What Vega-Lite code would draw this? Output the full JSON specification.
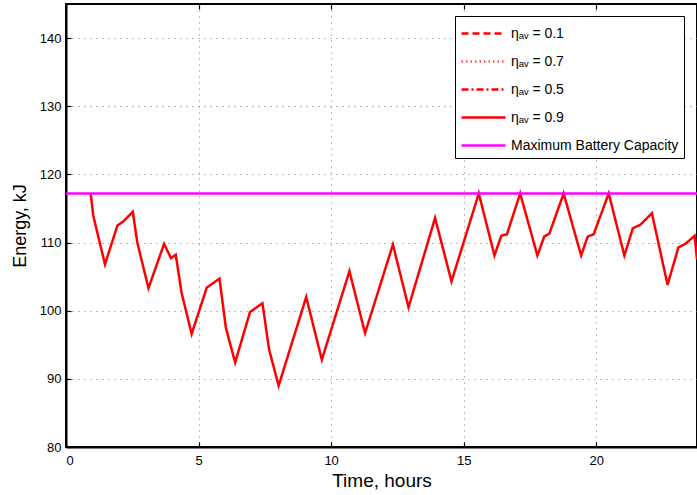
{
  "$schema": "https://vega.github.io/schema/vega-lite/v6.json",
  "autosize": "none",
  "width": 631,
  "height": 443,
  "padding": {"left": 66, "top": 4, "right": 0, "bottom": 48},
  "background": "white",
  "config": {
    "font": "Liberation Sans",
    "view": {"stroke": "black", "strokeWidth": 2},
    "axis": {
      "labelFont": "Liberation Sans",
      "labelFontSize": 13,
      "labelColor": "black",
      "titleFont": "Liberation Sans",
      "titleFontWeight": "normal",
      "titleColor": "black",
      "domainColor": "black",
      "domainWidth": 2,
      "tickColor": "black",
      "tickWidth": 1.2,
      "tickSize": -5,
      "gridColor": "#777",
      "gridDash": [1, 5],
      "gridWidth": 1
    },
    "legend": {
      "labelFont": "Liberation Sans",
      "labelFontSize": 14,
      "labelColor": "black",
      "labelLimit": 300
    }
  },
  "datasets": {
    "energy": [
      {"t": 0.93, "E": 117.2, "series": "ηₐᵥ = 0.9"},
      {"t": 1.03, "E": 113.9, "series": "ηₐᵥ = 0.9"},
      {"t": 1.47, "E": 106.8, "series": "ηₐᵥ = 0.9"},
      {"t": 1.94, "E": 112.5, "series": "ηₐᵥ = 0.9"},
      {"t": 2.16, "E": 113.1, "series": "ηₐᵥ = 0.9"},
      {"t": 2.52, "E": 114.5, "series": "ηₐᵥ = 0.9"},
      {"t": 2.69, "E": 110.0, "series": "ηₐᵥ = 0.9"},
      {"t": 3.11, "E": 103.3, "series": "ηₐᵥ = 0.9"},
      {"t": 3.70, "E": 109.8, "series": "ηₐᵥ = 0.9"},
      {"t": 3.96, "E": 107.7, "series": "ηₐᵥ = 0.9"},
      {"t": 4.14, "E": 108.2, "series": "ηₐᵥ = 0.9"},
      {"t": 4.36, "E": 102.6, "series": "ηₐᵥ = 0.9"},
      {"t": 4.74, "E": 96.6, "series": "ηₐᵥ = 0.9"},
      {"t": 5.31, "E": 103.4, "series": "ηₐᵥ = 0.9"},
      {"t": 5.79, "E": 104.7, "series": "ηₐᵥ = 0.9"},
      {"t": 6.03, "E": 97.5, "series": "ηₐᵥ = 0.9"},
      {"t": 6.38, "E": 92.4, "series": "ηₐᵥ = 0.9"},
      {"t": 6.94, "E": 99.8, "series": "ηₐᵥ = 0.9"},
      {"t": 7.41, "E": 101.1, "series": "ηₐᵥ = 0.9"},
      {"t": 7.66, "E": 94.3, "series": "ηₐᵥ = 0.9"},
      {"t": 8.02, "E": 89.0, "series": "ηₐᵥ = 0.9"},
      {"t": 9.06, "E": 102.0, "series": "ηₐᵥ = 0.9"},
      {"t": 9.65, "E": 92.8, "series": "ηₐᵥ = 0.9"},
      {"t": 10.69, "E": 105.8, "series": "ηₐᵥ = 0.9"},
      {"t": 11.28, "E": 96.7, "series": "ηₐᵥ = 0.9"},
      {"t": 12.33, "E": 109.7, "series": "ηₐᵥ = 0.9"},
      {"t": 12.92, "E": 100.5, "series": "ηₐᵥ = 0.9"},
      {"t": 13.92, "E": 113.6, "series": "ηₐᵥ = 0.9"},
      {"t": 14.54, "E": 104.3, "series": "ηₐᵥ = 0.9"},
      {"t": 15.57, "E": 117.2, "series": "ηₐᵥ = 0.9"},
      {"t": 16.16, "E": 108.1, "series": "ηₐᵥ = 0.9"},
      {"t": 16.42, "E": 111.0, "series": "ηₐᵥ = 0.9"},
      {"t": 16.63, "E": 111.2, "series": "ηₐᵥ = 0.9"},
      {"t": 17.13, "E": 117.2, "series": "ηₐᵥ = 0.9"},
      {"t": 17.78, "E": 108.1, "series": "ηₐᵥ = 0.9"},
      {"t": 18.04, "E": 110.9, "series": "ηₐᵥ = 0.9"},
      {"t": 18.23, "E": 111.3, "series": "ηₐᵥ = 0.9"},
      {"t": 18.77, "E": 117.2, "series": "ηₐᵥ = 0.9"},
      {"t": 19.43, "E": 108.1, "series": "ηₐᵥ = 0.9"},
      {"t": 19.68, "E": 110.9, "series": "ηₐᵥ = 0.9"},
      {"t": 19.90, "E": 111.2, "series": "ηₐᵥ = 0.9"},
      {"t": 20.47, "E": 117.2, "series": "ηₐᵥ = 0.9"},
      {"t": 21.06, "E": 108.1, "series": "ηₐᵥ = 0.9"},
      {"t": 21.38, "E": 112.1, "series": "ηₐᵥ = 0.9"},
      {"t": 21.66, "E": 112.6, "series": "ηₐᵥ = 0.9"},
      {"t": 22.10, "E": 114.3, "series": "ηₐᵥ = 0.9"},
      {"t": 22.69, "E": 103.8, "series": "ηₐᵥ = 0.9"},
      {"t": 23.10, "E": 109.3, "series": "ηₐᵥ = 0.9"},
      {"t": 23.36, "E": 109.8, "series": "ηₐᵥ = 0.9"},
      {"t": 23.71, "E": 111.0, "series": "ηₐᵥ = 0.9"},
      {"t": 23.80, "E": 107.5, "series": "ηₐᵥ = 0.9"}
    ],
    "cap": [
      {"t": 0, "E": 117.2, "series": "Maximum Battery Capacity"},
      {"t": 24, "E": 117.2, "series": "Maximum Battery Capacity"}
    ]
  },
  "encoding": {
    "x": {
      "field": "t", "type": "quantitative",
      "scale": {"domain": [0, 23.8], "nice": false, "zero": false},
      "axis": {"title": "Time, hours", "titleFontSize": 19, "values": [0, 5, 10, 15, 20], "format": "d", "labelPadding": 12, "titlePadding": 4, "grid": true}
    },
    "y": {
      "field": "E", "type": "quantitative",
      "scale": {"domain": [80, 145], "nice": false, "zero": false},
      "axis": {"title": "Energy, kJ", "titleFontSize": 18, "values": [80, 90, 100, 110, 120, 130, 140], "labelPadding": 10, "titlePadding": 10, "grid": true}
    },
    "color": {
      "field": "series", "type": "nominal",
      "scale": {
        "domain": ["ηₐᵥ = 0.1", "ηₐᵥ = 0.7", "ηₐᵥ = 0.5", "ηₐᵥ = 0.9", "Maximum Battery Capacity"],
        "range": ["#ff0000", "#ff5050", "#ff0000", "#ff0000", "#ff00ff"]
      },
      "legend": {
        "title": null,
        "orient": "none",
        "legendX": 389,
        "legendY": 12,
        "symbolType": "M-1,0H3",
        "symbolSize": 484,
        "strokeColor": "black",
        "fillColor": "white",
        "padding": 5,
        "rowPadding": 8,
        "labelOffset": 26
      }
    },
    "strokeDash": {
      "field": "series", "type": "nominal",
      "scale": {
        "domain": ["ηₐᵥ = 0.1", "ηₐᵥ = 0.7", "ηₐᵥ = 0.5", "ηₐᵥ = 0.9", "Maximum Battery Capacity"],
        "range": [[7, 4], [1.5, 3], [7, 3, 2, 3], [1, 0], [1, 0]]
      },
      "legend": {
        "title": null,
        "orient": "none",
        "legendX": 389,
        "legendY": 12,
        "symbolType": "M-1,0H3",
        "symbolSize": 484,
        "strokeColor": "black",
        "fillColor": "white",
        "padding": 5,
        "rowPadding": 8,
        "labelOffset": 26
      }
    },
    "strokeWidth": {
      "field": "series", "type": "nominal",
      "scale": {
        "domain": ["ηₐᵥ = 0.1", "ηₐᵥ = 0.7", "ηₐᵥ = 0.5", "ηₐᵥ = 0.9", "Maximum Battery Capacity"],
        "range": [2.5, 2.5, 2.5, 3, 4.5]
      },
      "legend": {
        "title": null,
        "orient": "none",
        "legendX": 389,
        "legendY": 12,
        "symbolType": "M-1,0H3",
        "symbolSize": 484,
        "strokeColor": "black",
        "fillColor": "white",
        "padding": 5,
        "rowPadding": 8,
        "labelOffset": 26
      }
    }
  },
  "layer": [
    {"data": {"name": "energy"}, "mark": {"type": "line", "clip": true, "strokeJoin": "miter"}},
    {
      "data": {"name": "cap"},
      "mark": {"type": "line", "clip": true},
      "encoding": {
        "x": {
          "field": "t", "type": "quantitative",
          "axis": {"orient": "top", "title": null, "labels": false, "grid": false, "domain": false, "values": [0, 5, 10, 15, 20]}
        }
      }
    }
  ],
  "resolve": {"axis": {"x": "independent"}}
}
